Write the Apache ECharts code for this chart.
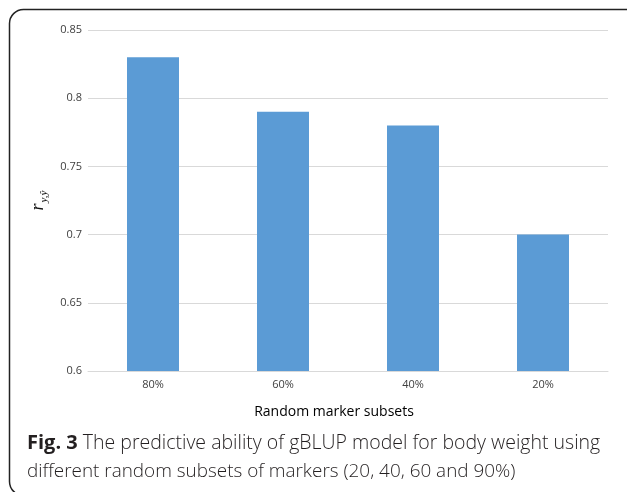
<!DOCTYPE html>
<html>
<head>
<meta charset="utf-8">
<script src="https://cdn.jsdelivr.net/npm/echarts@6/dist/echarts.min.js"></script>
<style>
  html, body { margin: 0; padding: 0; background: #fff; }
  #chart { width: 627px; height: 492px; }
</style>
</head>
<body>
<div id="chart"></div>
<script>
// Marker subset categories and predictive ability values
const categories = ['80%', '60%', '40%', '20%'];
const accuracy = [0.83, 0.79, 0.78, 0.70];
const yTicks = { min: 0.6, max: 0.85, interval: 0.05 };

const xTitle = 'Random marker subsets';
const captionBold = 'Fig. 3';
const captionLine1 = ' The predictive ability of gBLUP model for body weight using';
const captionLine2 = 'different random subsets of markers (20, 40, 60 and 90%)';

const chart = echarts.init(document.getElementById('chart'), null, { renderer: 'canvas' });

chart.setOption({
  animation: false,
  backgroundColor: '#ffffff',
  grid: { left: 88, right: 19, top: 30, bottom: 121 },
  xAxis: {
    type: 'category',
    data: categories,
    axisLine: { show: true, lineStyle: { color: '#d9d9d9', width: 1 } },
    axisTick: { show: false },
    axisLabel: { color: '#404040', fontSize: 11, fontFamily: 'Open Sans', margin: 8 }
  },
  yAxis: {
    type: 'value',
    min: yTicks.min,
    max: yTicks.max,
    interval: yTicks.interval,
    axisLine: { show: false },
    axisTick: { show: false },
    axisLabel: {
      color: '#404040', fontSize: 11, fontFamily: 'Open Sans', margin: 6,
      formatter: v => String(parseFloat(v.toFixed(2)))
    },
    splitLine: { lineStyle: { color: '#d9d9d9', width: 1 } },
    name: '{r|r}{s|y,ŷ}',
    nameLocation: 'middle',
    nameRotate: 90,
    nameGap: 38,
    nameTextStyle: {
      rich: {
        r: { fontFamily: 'Liberation Serif', fontStyle: 'italic', fontSize: 18, color: '#111' },
        s: { fontFamily: 'Liberation Serif', fontStyle: 'italic', fontSize: 11, color: '#111', padding: [11, 0, 0, 1] }
      }
    }
  },
  series: [{
    type: 'bar',
    data: accuracy,
    barWidth: '40%',
    itemStyle: { color: '#5b9bd5' }
  }],
  graphic: [
    {
      type: 'rect',
      shape: { x: 9.5, y: 9.5, width: 640, height: 486, r: 14 },
      style: { fill: 'none', stroke: '#222', lineWidth: 1.5 },
      silent: true
    },
    {
      type: 'text',
      x: 334, y: 412,
      style: {
        text: xTitle, fill: '#000', fontFamily: 'Open Sans', fontSize: 14,
        align: 'center', verticalAlign: 'middle'
      }
    },
    {
      type: 'text',
      x: 27, y: 443,
      style: {
        text: '{b|' + captionBold + '}{n|' + captionLine1 + '}',
        verticalAlign: 'middle',
        rich: {
          b: { fontFamily: 'Open Sans', fontWeight: 'bold', fontSize: 20, fill: '#231f20' },
          n: { fontFamily: 'Open Sans', fontSize: 19.5, fill: '#231f20', fontWeight: 300 }
        }
      }
    },
    {
      type: 'text',
      x: 27, y: 472,
      style: {
        text: captionLine2, fill: '#231f20', fontFamily: 'Open Sans', fontSize: 18.9, fontWeight: 300,
        verticalAlign: 'middle'
      }
    }
  ]
});
</script>
</body>
</html>
